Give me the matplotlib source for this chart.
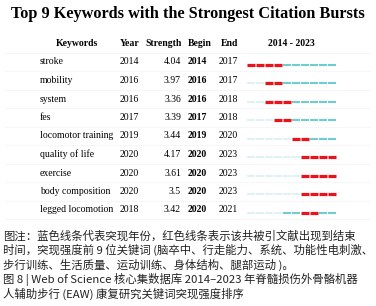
import matplotlib
matplotlib.use("Agg")
import matplotlib.pyplot as plt

keywords = ['stroke', 'mobility', 'system', 'fes', 'locomotor training',
            'quality of life', 'exercise', 'body composition', 'legged locomotion']
years = [2014, 2016, 2016, 2017, 2019, 2020, 2020, 2020, 2018]
strength = ['4.04', '3.97', '3.36', '3.39', '3.44', '4.17', '3.61', '3.5', '3.42']
begin = [2014, 2016, 2016, 2017, 2019, 2020, 2020, 2020, 2020]
end = [2017, 2017, 2018, 2018, 2020, 2023, 2023, 2023, 2021]
span = (2014, 2023)

caption = ['图注：蓝色线条代表突现年份，红色线条表示该共被引文献出现到结束',
           '时间，突现强度前 9 位关键词 (脑卒中、行走能力、系统、功能性电刺激、',
           '步行训练、生活质量、运动训练、身体结构、腿部运动 )。',
           '图 8 | Web of Science 核心集数据库 2014–2023 年脊髓损伤外骨骼机器',
           '人辅助步行 (EAW) 康复研究关键词突现强度排序']

RED, TEAL, LIGHT = '#e8131b', '#6fcdd0', '#d5eef0'
W, H = 376, 306
fig = plt.figure(figsize=(W / 100, H / 100), dpi=100)
ax = fig.add_axes([0, 0, 1, 1])
ax.set_xlim(0, W)
ax.set_ylim(H, 0)
ax.axis('off')

serif = 'Liberation Serif'
fs = 7.0
ax.text(188, 14, 'Top 9 Keywords with the Strongest Citation Bursts', ha='center', va='center',
        fontsize=11.7, fontweight='bold', family=serif)

hy = 44
hdr = dict(fontsize=fs, fontweight='bold', family=serif, va='center')
ax.text(77, hy, 'Keywords', ha='center', **hdr)
ax.text(120, hy, 'Year', ha='left', **hdr)
ax.text(182, hy, 'Strength', ha='right', **hdr)
ax.text(188, hy, 'Begin', ha='left', **hdr)
ax.text(221, hy, 'End', ha='left', **hdr)
ax.text(291, hy, f'{span[0]} - {span[1]}', ha='center', **hdr)

y0, dy = 62, 18.5
for i, kw in enumerate(keywords):
    y = y0 + dy * i
    ax.text(40, y, kw, ha='left', va='center', fontsize=fs, family=serif)
    ax.text(120, y, str(years[i]), ha='left', va='center', fontsize=fs, family=serif)
    ax.text(181, y, strength[i], ha='right', va='center', fontsize=fs, family=serif)
    ax.text(188, y, str(begin[i]), ha='left', va='center', fontsize=fs, family=serif,
            fontweight='bold')
    ax.text(219, y, str(end[i]), ha='left', va='center', fontsize=fs, family=serif)
    ax.plot([5, 370], [y - dy / 2, y - dy / 2], color='#f5f5f5', lw=0.6)
ax.plot([5, 370], [y0 + dy * 8.5, y0 + dy * 8.5], color='#f5f5f5', lw=0.6)

# burst bars on a year axis
top, bot = y0 - dy / 2 + 2.5, y0 + dy * 8.5 + 2.5
bx = fig.add_axes([246 / W, 1 - bot / H, 91 / W, (bot - top) / H])
bx.set_xlim(span[0] - 0.5, span[1] + 0.5)
bx.set_ylim(len(keywords) - 0.5, -0.5)
bx.axis('off')
g = 0.06
for i in range(len(keywords)):
    for yr in range(span[0], span[1] + 1):
        if yr < years[i]:
            c, lw = LIGHT, 1.1
        elif begin[i] <= yr <= end[i]:
            c, lw = RED, 2.3
        else:
            c, lw = TEAL, 1.5
        bx.hlines(i, yr - 0.5 + g, yr + 0.5 - g, color=c, lw=lw)

cjk = ['Noto Sans CJK SC', 'DejaVu Sans']
for j, line in enumerate(caption):
    ax.text(3, 236 + 14.4 * j, line, ha='left', va='center', fontsize=8.2, family=cjk,
            color='#222222')

fig.savefig('out.png', dpi=100)
